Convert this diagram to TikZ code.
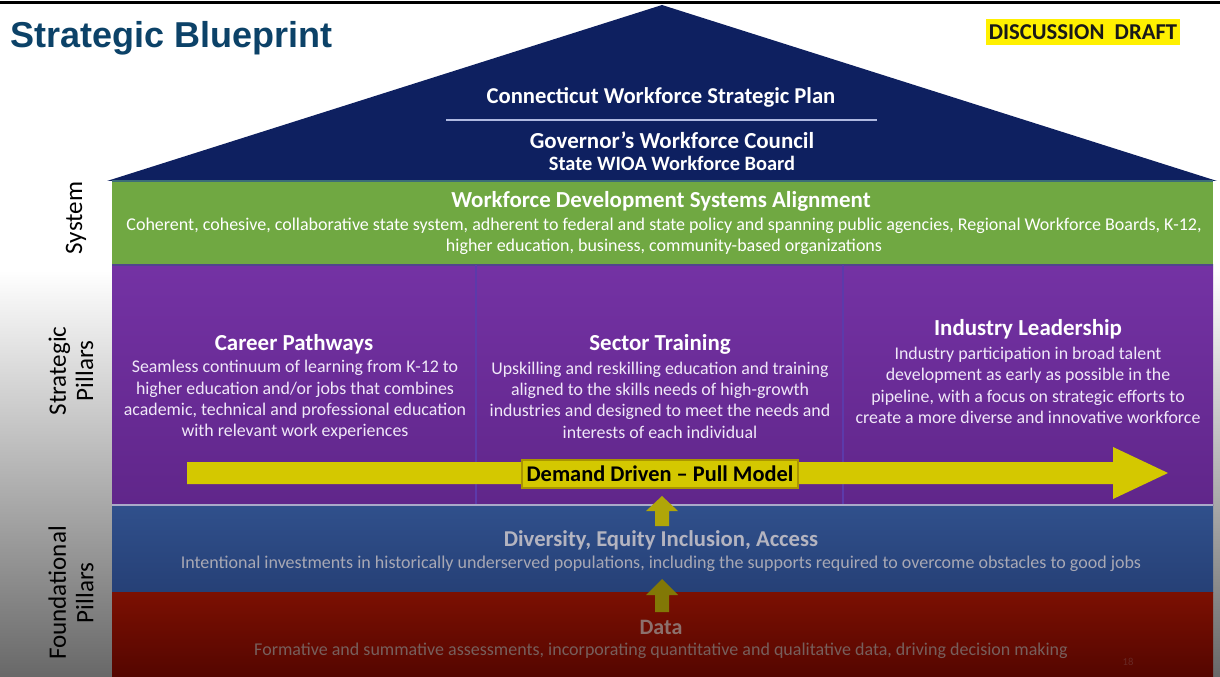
\documentclass[tikz,border=0pt]{standalone}
\usepackage{fontspec}
\setmainfont{Carlito}
\newfontfamily\arialfont{Liberation Sans}
\definecolor{titleblue}{RGB}{12,66,104}
\definecolor{roofnavy}{RGB}{14,32,96}
\definecolor{sysgreen}{RGB}{112,168,66}
\definecolor{purpletop}{RGB}{116,50,164}
\definecolor{purplebot}{RGB}{96,38,138}
\definecolor{bluetop}{RGB}{48,80,140}
\definecolor{bluebot}{RGB}{38,64,118}
\definecolor{redtop}{RGB}{124,16,2}
\definecolor{redbot}{RGB}{84,6,0}
\definecolor{arrowyellow}{RGB}{212,200,0}
\definecolor{arrowolive}{RGB}{176,166,8}
\definecolor{arrowdark}{RGB}{130,120,6}
\definecolor{hiyellow}{RGB}{255,240,0}
\definecolor{dimtext}{RGB}{168,168,180}
\definecolor{dimhead}{RGB}{180,180,192}
\definecolor{redtext}{RGB}{140,112,108}
\definecolor{purtext}{RGB}{240,232,248}
\definecolor{divline}{RGB}{92,58,170}
\tikzset{
  headtxt/.style={align=center, inner sep=0pt, font=\bfseries\fontsize{17.2}{20}\selectfont, text=white},
  bodytxt/.style={align=center, inner sep=0pt, font=\fontsize{13.4}{16}\selectfont, text=purtext},
  sidelabel/.style={align=center, inner sep=0pt, rotate=90, font=\fontsize{18.8}{20.5}\selectfont, text=black},
  rooftxt/.style={align=center, inner sep=0pt, text=white},
}
\begin{document}
\begin{tikzpicture}[x=0.75pt,y=-0.75pt]
\useasboundingbox (0,0) rectangle (1220,677);
\fill[white] (0,0) rectangle (1220,677);
% margins shading (video vignette)
\shade[top color=white, bottom color={rgb,255:red,104;green,104;blue,104}] (0,270) rectangle (112,677);
\shade[top color=white, bottom color={rgb,255:red,104;green,104;blue,104}] (1213,270) rectangle (1220,677);
% top black line
\draw[line width=1.6pt, black] (0,2.5) -- (1220,2.5);

% title
\node[anchor=base west, inner sep=0pt, font=\arialfont\bfseries\fontsize{27}{30}\selectfont, text=titleblue] (title) at (10,48) {Strategic Blueprint};
\node[anchor=center, fill=hiyellow, inner xsep=2.5pt, inner ysep=4pt, font=\bfseries\fontsize{17}{18}\selectfont, text=black!90] (draft) at (1083,32) {DISCUSSION\ \ DRAFT};

% roof
\coordinate (apex) at (662,5);
\coordinate (roofL) at (107,181);
\coordinate (roofR) at (1217,181);
\fill[roofnavy] (roofL) -- (apex) -- (roofR) -- cycle;
\node[rooftxt, font=\bfseries\fontsize{17}{20}\selectfont] (plan) at (661,97) {Connecticut Workforce Strategic Plan};
\coordinate (ruleL) at (446,120);
\coordinate (ruleR) at (877,120);
\draw[line width=1.4pt, color={rgb,255:red,175;green,185;blue,225}] (ruleL) -- (ruleR);
\node[rooftxt, font=\bfseries\fontsize{17.2}{20}\selectfont] (gwc) at (672,140) {Governor’s Workforce Council};
\node[rooftxt, font=\bfseries\fontsize{15.3}{17}\selectfont] (wioa) at (672,163) {State WIOA Workforce Board};

% system band
\fill[sysgreen] (112,181) rectangle (1213,265);
\draw[line width=0.8pt, color={rgb,255:red,60;green,110;blue,120}] (112,181) -- (1213,181);
\node[headtxt] (systitle) at (661,201) {Workforce Development Systems Alignment};
\node[bodytxt, text=white, font=\fontsize{13.5}{15.75}\selectfont] (sysbody) at (664,236.5) {Coherent, cohesive, collaborative state system, adherent to federal and state policy and spanning public agencies, Regional Workforce Boards, K-12,\\higher education, business, community-based organizations};

% strategic pillars band
\shade[top color=purpletop, bottom color=purplebot] (112,265) rectangle (1213,505);
\draw[line width=0.8pt, color={rgb,255:red,80;green,70;blue,140}] (112,265) -- (1213,265);
\draw[line width=1pt, divline] (476,265) -- (476,505);
\draw[line width=1pt, divline] (843,265) -- (843,505);

\node[headtxt] (cp) at (294,344) {Career Pathways};
\node[bodytxt] (cpbody) at (295,400) {Seamless continuum of learning from K-12 to\\higher education and/or jobs that combines\\academic, technical and professional education\\with relevant work experiences};
\node[headtxt] (st) at (660,344) {Sector Training};
\node[bodytxt] (stbody) at (660,400) {Upskilling and reskilling education and training\\aligned to the skills needs of high-growth\\industries and designed to meet the needs and\\interests of each individual};
\node[headtxt] (il) at (1028,329) {Industry Leadership};
\node[bodytxt] (ilbody) at (1028,385.5) {Industry participation in broad talent\\development as early as possible in the\\pipeline, with a focus on strategic efforts to\\create a more diverse and innovative workforce};

% big arrow
\coordinate (arrS1) at (187,462);
\coordinate (arrH1) at (1113,462);
\coordinate (arrH2) at (1113,447);
\coordinate (arrTip) at (1168,473);
\coordinate (arrH3) at (1113,499);
\coordinate (arrH4) at (1113,484);
\coordinate (arrS2) at (187,484);
\fill[arrowyellow] (arrS1) -- (arrH1) -- (arrH2) -- (arrTip) -- (arrH3) -- (arrH4) -- (arrS2) -- cycle;
\node[fill=arrowyellow, draw={rgb,255:red,170;green,150;blue,0}, line width=0.8pt, minimum width=276*0.75pt, minimum height=28*0.75pt, inner sep=0pt, font=\bfseries\fontsize{16.8}{18}\selectfont, text=black] (demand) at (660,474) {Demand Driven – Pull Model};

% foundational: DEIA band
\shade[top color=bluetop, bottom color=bluebot] (112,505) rectangle (1213,592);
\draw[line width=1pt, color={rgb,255:red,170;green,170;blue,200}] (112,505) -- (1213,505);
\node[headtxt, text=dimhead, font=\bfseries\fontsize{17}{20}\selectfont] (deia) at (661,540) {Diversity, Equity Inclusion, Access};
\node[bodytxt, text=dimtext, font=\fontsize{13.5}{15}\selectfont] (deiabody) at (661,564) {Intentional investments in historically underserved populations, including the supports required to overcome obstacles to good jobs};

% data band
\shade[top color=redtop, bottom color=redbot] (112,592) rectangle (1213,677);
\node[headtxt, text=redtext, font=\bfseries\fontsize{16.5}{20}\selectfont] (data) at (661,627) {Data};
\node[bodytxt, text=redtext!85!black, font=\fontsize{13.5}{15}\selectfont] (databody) at (661,651) {Formative and summative assessments, incorporating quantitative and qualitative data, driving decision making};
\node[inner sep=0pt, font=\fontsize{8}{9}\selectfont, text={rgb,255:red,105;green,40;blue,36}] (pagenum) at (1128,662) {18};

% up arrows
\coordinate (u1tip) at (662,496);
\fill[arrowolive] (u1tip) -- (678,511) -- (669,511) -- (669,526) -- (655,526) -- (655,511) -- (646,511) -- cycle;
\coordinate (u2tip) at (662,579);
\fill[arrowdark] (u2tip) -- (678,595) -- (669,595) -- (669,612) -- (655,612) -- (655,595) -- (646,595) -- cycle;

% side labels
\node[sidelabel] (lsys) at (76,218) {System};
\node[sidelabel] (lstrat) at (71,371) {Strategic\\Pillars};
\node[sidelabel] (lfound) at (71,593) {Foundational\\Pillars};
\end{tikzpicture}
\end{document}
